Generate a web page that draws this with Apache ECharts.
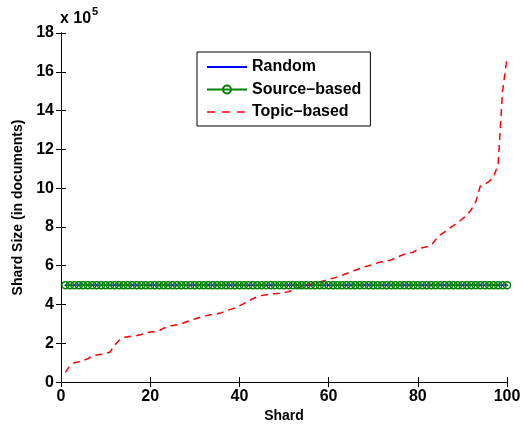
<!DOCTYPE html>
<html>
<head>
<meta charset="utf-8">
<script src="https://cdn.jsdelivr.net/npm/echarts@6/dist/echarts.min.js"></script>
<style>
  html, body { margin: 0; padding: 0; background: #fff; }
  #chart { width: 526px; height: 428px; }
</style>
</head>
<body>
<div id="chart"></div>
<script>
// shard sizes, in units of 10^5 documents (shard 1..100)
const randomSizes = [
  5, 5, 5, 5, 5, 5, 5, 5, 5, 5, 5, 5, 5, 5, 5, 5, 5, 5, 5, 5,
  5, 5, 5, 5, 5, 5, 5, 5, 5, 5, 5, 5, 5, 5, 5, 5, 5, 5, 5, 5,
  5, 5, 5, 5, 5, 5, 5, 5, 5, 5, 5, 5, 5, 5, 5, 5, 5, 5, 5, 5,
  5, 5, 5, 5, 5, 5, 5, 5, 5, 5, 5, 5, 5, 5, 5, 5, 5, 5, 5, 5,
  5, 5, 5, 5, 5, 5, 5, 5, 5, 5, 5, 5, 5, 5, 5, 5, 5, 5, 5, 5
]
const sourceSizes = [
  5, 5, 5, 5, 5, 5, 5, 5, 5, 5, 5, 5, 5, 5, 5, 5, 5, 5, 5, 5,
  5, 5, 5, 5, 5, 5, 5, 5, 5, 5, 5, 5, 5, 5, 5, 5, 5, 5, 5, 5,
  5, 5, 5, 5, 5, 5, 5, 5, 5, 5, 5, 5, 5, 5, 5, 5, 5, 5, 5, 5,
  5, 5, 5, 5, 5, 5, 5, 5, 5, 5, 5, 5, 5, 5, 5, 5, 5, 5, 5, 5,
  5, 5, 5, 5, 5, 5, 5, 5, 5, 5, 5, 5, 5, 5, 5, 5, 5, 5, 5, 5
]
const topicSizes = [
  0.5, 0.85, 1.0, 1.05, 1.12, 1.2, 1.36, 1.4, 1.43, 1.47,
  1.55, 1.9, 2.15, 2.3, 2.34, 2.37, 2.4, 2.45, 2.52, 2.58,
  2.6, 2.65, 2.78, 2.87, 2.92, 2.96, 3.0, 3.1, 3.18, 3.25,
  3.33, 3.4, 3.45, 3.49, 3.52, 3.58, 3.67, 3.75, 3.82, 3.93,
  4.05, 4.15, 4.3, 4.4, 4.47, 4.5, 4.54, 4.56, 4.58, 4.62,
  4.66, 4.75, 4.85, 4.92, 4.98, 5.05, 5.1, 5.16, 5.23, 5.3,
  5.35, 5.43, 5.51, 5.6, 5.7, 5.77, 5.86, 5.95, 6.0, 6.06,
  6.15, 6.21, 6.24, 6.3, 6.4, 6.5, 6.6, 6.66, 6.7, 6.85,
  6.93, 6.98, 7.05, 7.35, 7.58, 7.75, 7.92, 8.07, 8.22, 8.42,
  8.6, 8.9, 9.3, 10.1, 10.2, 10.35, 10.6, 11.2, 15.0, 16.7
]
const xTicks = [0, 20, 40, 60, 80, 100]
const yTicks = [0, 2, 4, 6, 8, 10, 12, 14, 16, 18]

const FONT = 'Liberation Sans, Arial, sans-serif'

// pair each value with its shard number
function toPoints (values) {
  return values.map((v, i) => [i + 1, v])
}

const chart = echarts.init(document.getElementById('chart'), null, { renderer: 'canvas' })

const axisCommon = {
  type: 'value',
  axisLine: { show: true, lineStyle: { color: '#000', width: 1 } },
  axisTick: { show: true, inside: true, length: 5, lineStyle: { color: '#000', width: 1 } },
  splitLine: { show: false },
  axisLabel: { color: '#000', fontFamily: FONT, fontWeight: 'bold', fontSize: 16 }
}

const xRange = { min: xTicks[0], max: xTicks[xTicks.length - 1], interval: xTicks[1] - xTicks[0] }
const yRange = { min: yTicks[0], max: yTicks[yTicks.length - 1], interval: yTicks[1] - yTicks[0] }

const option = {
  animation: false,
  backgroundColor: '#fff',
  grid: { left: 61, right: 19, top: 33, bottom: 43, containLabel: false },
  xAxis: [
    Object.assign({}, axisCommon, xRange, {
      position: 'bottom',
      axisLabel: Object.assign({}, axisCommon.axisLabel, { margin: 6 }),
      name: 'Shard',
      nameLocation: 'middle',
      nameGap: 26,
      nameTextStyle: { color: '#000', fontFamily: FONT, fontWeight: 'bold', fontSize: 14 }
    }),
    Object.assign({}, axisCommon, xRange, {
      position: 'top',
      axisLabel: { show: false }
    })
  ],
  yAxis: [
    Object.assign({}, axisCommon, yRange, {
      position: 'left',
      axisLabel: Object.assign({}, axisCommon.axisLabel, { margin: 7 }),
      name: 'Shard Size (in documents)',
      nameLocation: 'middle',
      nameGap: 36,
      nameTextStyle: { color: '#000', fontFamily: FONT, fontWeight: 'bold', fontSize: 14 }
    }),
    Object.assign({}, axisCommon, yRange, {
      position: 'right',
      axisLabel: { show: false }
    })
  ],
  legend: {
    orient: 'vertical',
    left: 197,
    top: 52,
    padding: [7, 9, 6, 9],
    itemGap: 6.5,
    itemWidth: 40,
    itemHeight: 10,
    backgroundColor: '#fff',
    borderColor: '#000',
    borderWidth: 1,
    borderRadius: 0,
    textStyle: { color: '#000', fontFamily: FONT, fontWeight: 'bold', fontSize: 16 },
    data: [
      // the dot marker of Random is too small to show in the key
      { name: 'Random', itemStyle: { color: 'rgba(0,0,0,0)', borderWidth: 0 } },
      { name: 'Source–based' },
      {
        name: 'Topic–based',
        itemStyle: { color: 'rgba(0,0,0,0)', borderWidth: 0 },
        lineStyle: { color: '#ff0000', width: 1.5, type: [8, 7] }
      }
    ]
  },
  graphic: [
    {
      type: 'text',
      left: 60,
      top: 11,
      style: { text: 'x 10', fill: '#000', font: 'bold 16px ' + FONT }
    },
    {
      type: 'text',
      left: 92,
      top: 6,
      style: { text: '5', fill: '#000', font: 'bold 11px ' + FONT }
    }
  ],
  series: [
    {
      name: 'Random',
      type: 'line',
      data: toPoints(randomSizes),
      symbol: 'circle',
      symbolSize: 2,
      itemStyle: { color: '#0000ff' },
      lineStyle: { color: '#0000ff', width: 1 }
    },
    {
      name: 'Source–based',
      type: 'line',
      data: toPoints(sourceSizes),
      symbol: 'circle',
      symbolSize: 7,
      itemStyle: { color: 'rgba(0,0,0,0)', borderColor: '#008000', borderWidth: 1.5 },
      lineStyle: { color: '#008000', width: 1 }
    },
    {
      name: 'Topic–based',
      type: 'line',
      data: toPoints(topicSizes),
      symbol: 'none',
      lineStyle: { color: '#ff0000', width: 1.5, type: [7, 5] }
    }
  ]
}

chart.setOption(option)
</script>
</body>
</html>
